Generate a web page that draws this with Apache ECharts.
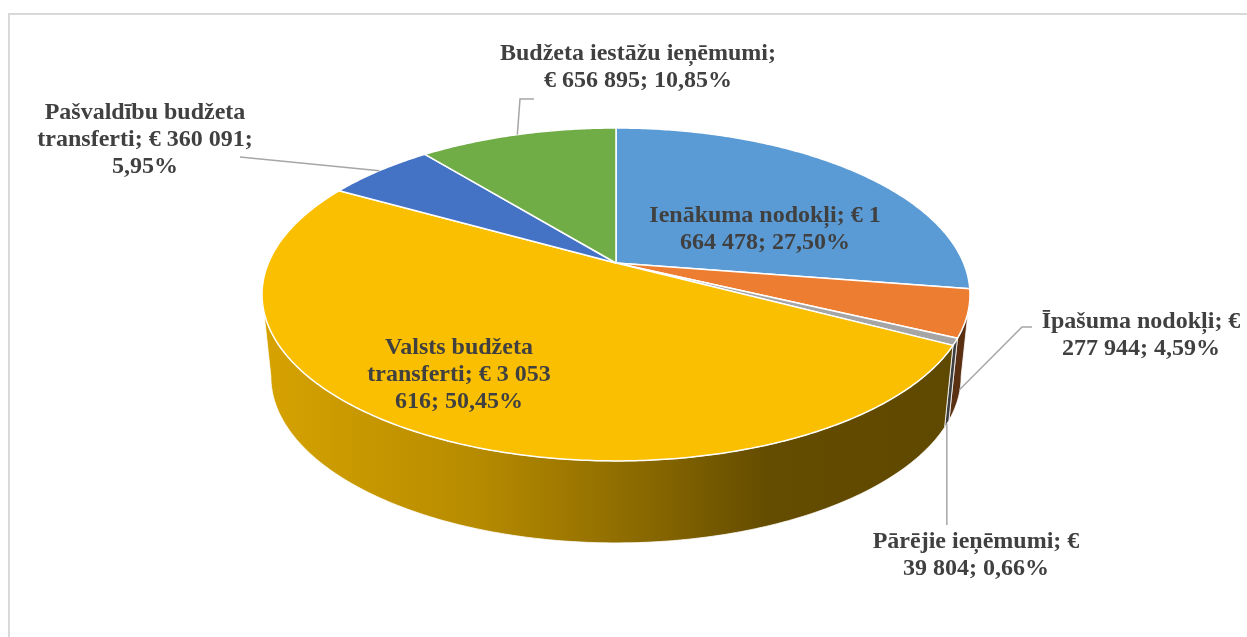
<!DOCTYPE html>
<html>
<head>
<meta charset="utf-8">
<script src="https://cdn.jsdelivr.net/npm/echarts@6/dist/echarts.min.js"></script>
<style>
  html, body { margin: 0; padding: 0; background: #fff; }
  #chart { width: 1247px; height: 637px; }
</style>
</head>
<body>
<div id="chart"></div>
<script>
// data
var categories = ['Ienākuma nodokļi', 'Īpašuma nodokļi', 'Pārējie ieņēmumi', 'Valsts budžeta transferti', 'Pašvaldību budžeta transferti', 'Budžeta iestāžu ieņēmumi'];
var values = [1664478, 277944, 39804, 3053616, 360091, 656895];

// styles
var colors = ['#5B9BD5', '#ED7D31', '#A5A5A5', '#FABF00', '#4472C4', '#70AD47'];
var FONT_SIZE = 24;
var FONT = 'bold ' + FONT_SIZE + 'px "Liberation Serif", "Times New Roman", serif';

// pie geometry (tilted disk with a little perspective)
var CX = 616, CY = 263, A = 347.6, B = 160.5, P = 0.189, DEPTH = 82, SHRINK = 0.975;
var SIDE_FROM = Math.acos(-P), SIDE_TO = 2 * Math.PI - Math.acos(-P);

// label layout: text centre, wrap width, leader end points
var labelLayout = [
  { x: 765, y: 229, w: 245 },
  { x: 1141, y: 335, w: 215, from: 0.93, leader: [[1022, 327], [1032, 327]] },
  { x: 976, y: 555, w: 220, from: 1, vertical: 525 },
  { x: 459, y: 375, w: 205 },
  { x: 145, y: 140, w: 235, from: 0, leader: [[240, 157]] },
  { x: 638, y: 67, w: 280, from: 0, leader: [[520, 99], [534, 99]] }
];

var total = values.reduce(function (a, b) { return a + b; }, 0);
var starts = [], ends = [];
var acc = 0;
values.forEach(function (v) {
  starts.push(acc / total * 2 * Math.PI);
  acc += v;
  ends.push(acc / total * 2 * Math.PI);
});

function rim(theta, depth) {
  var u = Math.sin(theta), v = -Math.cos(theta), w = 1 - P * v;
  var k = 1 - (1 - SHRINK) * depth / DEPTH;
  return [CX + A * u / w * k, CY + B * v / w + depth];
}

function arc(a, b, depth) {
  var n = Math.max(2, Math.ceil((b - a) / 0.01));
  var pts = [];
  for (var j = 0; j <= n; j++) pts.push(rim(a + (b - a) * j / n, depth));
  return pts;
}

function shade(hex, f) {
  var c = echarts.color.parse(hex);
  return 'rgb(' + Math.round(c[0] * f) + ',' + Math.round(c[1] * f) + ',' + Math.round(c[2] * f) + ')';
}

function fmtNum(v) {
  return String(v).replace(/\B(?=(\d{3})+(?!\d))/g, ' ');
}

// greedy word wrap, like the spreadsheet does it
var measureCtx = document.createElement('canvas').getContext('2d');
function wrap(text, width) {
  measureCtx.font = FONT;
  var words = text.split(' '), lines = [], cur = '';
  words.forEach(function (w) {
    var test = cur ? cur + ' ' + w : w;
    if (cur && measureCtx.measureText(test).width > width) {
      lines.push(cur);
      cur = w;
    } else {
      cur = test;
    }
  });
  if (cur) lines.push(cur);
  return lines.join('\n');
}

function labelText(i) {
  var pct = (values[i] / total * 100).toFixed(2).replace('.', ',');
  return categories[i] + '; € ' + fmtNum(values[i]) + '; ' + pct + '%';
}

function renderSide(params, api) {
  var i = params.dataIndex;
  var a = Math.max(starts[i], SIDE_FROM), b = Math.min(ends[i], SIDE_TO);
  if (b <= a) return null;
  var pts = arc(a, b, 0).concat(arc(a, b, DEPTH).reverse());
  var grad = new echarts.graphic.LinearGradient(CX - A, 0, CX + A, 0, [
    { offset: 0, color: shade(colors[i], 0.85) },
    { offset: 0.3, color: shade(colors[i], 0.73) },
    { offset: 0.55, color: shade(colors[i], 0.54) },
    { offset: 0.72, color: shade(colors[i], 0.40) },
    { offset: 1, color: shade(colors[i], 0.38) }
  ], true);
  return {
    type: 'polygon',
    shape: { points: pts },
    style: { fill: grad, stroke: '#fff', lineWidth: 0.8 }
  };
}

function renderTop(params, api) {
  var i = params.dataIndex;
  var pts = [[CX, CY]].concat(arc(starts[i], ends[i], 0));
  return {
    type: 'polygon',
    shape: { points: pts },
    style: { fill: colors[i], stroke: '#fff', lineWidth: 1.5, lineJoin: 'round' }
  };
}

function renderLabel(params, api) {
  var i = params.dataIndex;
  var lay = labelLayout[i];
  var children = [];
  if (lay.from !== undefined) {
    var mid = (starts[i] + ends[i]) / 2;
    var p = rim(mid, DEPTH * lay.from);
    var line = [p];
    if (lay.vertical) line.push([p[0], lay.vertical]);
    else line = line.concat(lay.leader);
    children.push({
      type: 'polyline',
      shape: { points: line },
      style: { stroke: '#A6A6A6', lineWidth: 1.5, fill: null }
    });
  }
  children.push({
    type: 'text',
    x: lay.x,
    y: lay.y,
    style: {
      text: wrap(labelText(i), lay.w),
      align: 'center',
      verticalAlign: 'middle',
      lineHeight: 27,
      fill: '#404040',
      font: FONT
    }
  });
  return { type: 'group', children: children };
}

var chart = echarts.init(document.getElementById('chart'));
var option = {
  animation: false,
  graphic: [{
    type: 'rect',
    shape: { x: 9, y: 14, width: 1400, height: 800 },
    style: { fill: 'none', stroke: '#D9D9D9', lineWidth: 2 },
    silent: true
  }],
  series: [
    { type: 'custom', coordinateSystem: 'none', silent: true, z: 1, data: values, renderItem: renderSide },
    { type: 'custom', coordinateSystem: 'none', silent: true, z: 2, data: values, renderItem: renderTop },
    { type: 'custom', coordinateSystem: 'none', silent: true, z: 3, data: values, renderItem: renderLabel }
  ]
};
chart.setOption(option);
window.addEventListener('resize', function () {
  chart.resize();
});
</script>
</body>
</html>
